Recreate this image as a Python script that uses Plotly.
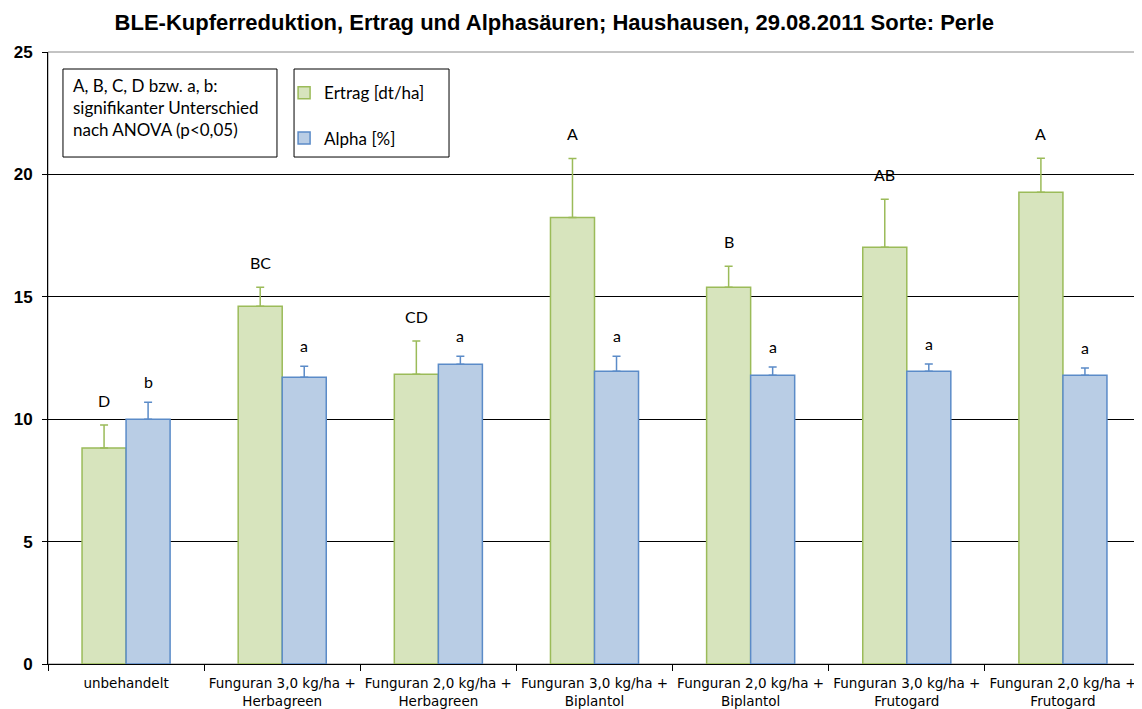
import plotly.graph_objects as go

# Daten
varianten = ["unbehandelt",
             "Funguran 3,0 kg/ha +<br>Herbagreen",
             "Funguran 2,0 kg/ha +<br>Herbagreen",
             "Funguran 3,0 kg/ha +<br>Biplantol",
             "Funguran 2,0 kg/ha +<br>Biplantol",
             "Funguran 3,0 kg/ha +<br>Frutogard",
             "Funguran 2,0 kg/ha +<br>Frutogard"]
ertrag = [8.82, 14.61, 11.84, 18.24, 15.39, 17.02, 19.27]
ertrag_err = [0.94, 0.78, 1.35, 2.41, 0.86, 1.96, 1.39]
alpha = [10.0, 11.71, 12.24, 11.96, 11.80, 11.96, 11.80]
alpha_err = [0.69, 0.45, 0.33, 0.61, 0.33, 0.29, 0.29]
ertrag_sig = ["D", "BC", "CD", "A", "B", "AB", "A"]
alpha_sig = ["b", "a", "a", "a", "a", "a", "a"]

GREEN_FILL, GREEN_LINE = "#D7E4BD", "#9BBB59"
BLUE_FILL, BLUE_LINE = "#B9CDE5", "#5B8BC8"
LABEL_FONT = dict(family="Lato, Open Sans, sans-serif", size=16, color="black")
BOX_FONT = dict(family="Lato, Open Sans, sans-serif", size=17, color="black")

fig = go.Figure()
fig.add_trace(go.Bar(
    x=varianten, y=ertrag, name="Ertrag [dt/ha]", legendgroup="g1",
    marker=dict(color=GREEN_FILL, line=dict(color=GREEN_LINE, width=1.5)),
    error_y=dict(type="data", symmetric=False, array=ertrag_err,
                 arrayminus=[0] * len(ertrag), color=GREEN_LINE, thickness=1.5, width=4)))
fig.add_trace(go.Bar(
    x=varianten, y=alpha, name="Alpha [%]", legendgroup="g2",
    marker=dict(color=BLUE_FILL, line=dict(color=BLUE_LINE, width=1.5)),
    error_y=dict(type="data", symmetric=False, array=alpha_err,
                 arrayminus=[0] * len(alpha), color=BLUE_LINE, thickness=1.5, width=4)))

# Signifikanzbuchstaben ueber den Fehlerbalken
for i, v in enumerate(varianten):
    fig.add_annotation(x=v, y=ertrag[i] + ertrag_err[i], text=ertrag_sig[i],
                       showarrow=False, xshift=-22, yshift=25, font=LABEL_FONT)
    fig.add_annotation(x=v, y=alpha[i] + alpha_err[i], text=alpha_sig[i],
                       showarrow=False, xshift=22, yshift=21, font=LABEL_FONT)

# Textbox
fig.add_annotation(xref="paper", yref="paper", x=0.0215, y=0.965,
                   xanchor="left", yanchor="top", align="left", showarrow=False,
                   text="A, B, C, D bzw. a, b:<br>signifikanter Unterschied<br>nach ANOVA (p<0,05)",
                   font=BOX_FONT)
fig.add_shape(type="rect", xref="paper", yref="paper", x0=0.0137, x1=0.2095,
              y0=0.8284, y1=0.9722, line=dict(color="black", width=1))
fig.add_shape(type="rect", xref="paper", yref="paper", x0=0.2251, x1=0.3669,
              y0=0.8284, y1=0.9722, line=dict(color="black", width=1))
# Rahmen der Zeichenflaeche
fig.add_shape(type="rect", xref="paper", yref="paper", x0=0, x1=1, y0=0, y1=1,
              line=dict(color="#888888", width=1), layer="below")

fig.update_layout(
    width=1134, height=701,
    margin=dict(l=40, r=1, t=44, b=45),
    paper_bgcolor="white", plot_bgcolor="white",
    barmode="group", bargap=0.436, bargroupgap=0,
    title=dict(text="<b>BLE-Kupferreduktion, Ertrag und Alphasäuren; Haushausen, 29.08.2011 Sorte: Perle</b>",
               x=0.094, xanchor="left", y=0.98, yanchor="middle",
               font=dict(family="Liberation Sans, Arial", size=22, color="black")),
    legend=dict(x=0.216, y=0.962, xanchor="left", yanchor="top",
                bgcolor="rgba(0,0,0,0)", borderwidth=0,
                traceorder="grouped", tracegroupgap=20,
                font=BOX_FONT, itemwidth=30),
    xaxis=dict(type="category", tickson="boundaries", ticks="outside", ticklen=6,
               tickcolor="black", showline=True, linecolor="black", linewidth=1,
               showgrid=False, ticklabelstandoff=7,
               tickfont=dict(family="DejaVu Sans", size=13.5, color="black")),
    yaxis=dict(range=[0, 25], dtick=5, ticks="outside", ticklen=5, tickcolor="black",
               showline=True, linecolor="black", linewidth=1,
               showgrid=True, gridcolor="black", gridwidth=1, zeroline=False,
               ticklabelstandoff=6,
               tickfont=dict(family="Liberation Sans, Arial", size=17, color="black"),
               tickprefix="<b>", ticksuffix="</b>"),
)

fig.write_html("out.html")
